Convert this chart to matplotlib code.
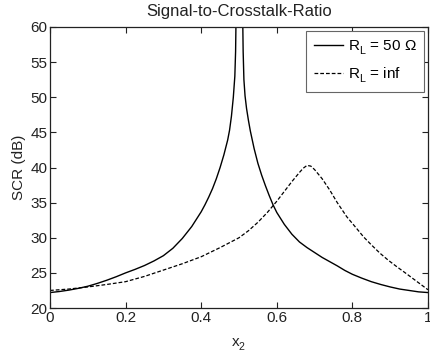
import numpy as np
import matplotlib
matplotlib.use("Agg")
import matplotlib.pyplot as plt

plt.rcParams['font.family'] = ['Liberation Sans', 'DejaVu Sans']
plt.rcParams['mathtext.fontset'] = 'custom'
plt.rcParams['mathtext.rm'] = 'Liberation Sans'
plt.rcParams['mathtext.it'] = 'Liberation Sans:italic'

# push subscripts a bit lower, matlab style
try:
    import matplotlib._mathtext as mt
    mt.FontConstantsBase.sub1 = 0.5
    mt.FontConstantsBase.sub2 = 0.6
except Exception:
    pass

# R_L = 50 ohm (solid), NaN breaks the curve at the pole near x2 = 0.5
x_50 = [0.0, 0.025, 0.05, 0.075, 0.1, 0.125, 0.15, 0.175, 0.2, 0.225, 0.25,
        0.275, 0.3, 0.325, 0.35, 0.375, 0.4, 0.41, 0.42, 0.43, 0.44, 0.45,
        0.46, 0.47, 0.475, 0.48, 0.485, 0.489, 0.491, 0.492, 0.4925, 0.5,
        0.5095, 0.51, 0.511, 0.513, 0.516, 0.52, 0.525, 0.53, 0.54, 0.55,
        0.56, 0.57, 0.58, 0.59, 0.6, 0.62, 0.64, 0.66, 0.68, 0.7, 0.72,
        0.74, 0.76, 0.78, 0.8, 0.825, 0.85, 0.875, 0.9, 0.925, 0.95, 0.975, 1.0]
scr_50 = [22.2, 22.35, 22.55, 22.8, 23.1, 23.5, 23.95, 24.45, 25.0, 25.5, 26.05,
          26.7, 27.45, 28.5, 29.9, 31.6, 33.7, 34.7, 35.8, 37.0, 38.4, 40.0,
          41.8, 43.9, 45.3, 47.3, 50.0, 53.0, 56.5, 60.5, 90.0, np.nan,
          90.0, 60.5, 56.5, 52.5, 50.2, 48.4, 46.7, 45.2, 42.7, 40.6,
          38.9, 37.4, 36.0, 34.7, 33.6, 31.9, 30.5, 29.4, 28.6, 27.9, 27.2,
          26.6, 26.0, 25.35, 24.8, 24.25, 23.75, 23.35, 23.0, 22.7, 22.5, 22.3, 22.2]

# R_L = inf (dashed)
x_inf = [0.0, 0.05, 0.1, 0.15, 0.2, 0.25, 0.3, 0.35, 0.4, 0.45, 0.5, 0.525,
         0.55, 0.575, 0.6, 0.62, 0.64, 0.66, 0.67, 0.68, 0.69, 0.7, 0.72,
         0.74, 0.76, 0.785, 0.81, 0.83, 0.85, 0.873, 0.895, 0.917, 0.94,
         0.96, 0.98, 1.0]
scr_inf = [22.5, 22.7, 23.0, 23.35, 23.75, 24.5, 25.4, 26.3, 27.3, 28.6, 30.0, 31.0,
           32.2, 33.6, 35.2, 36.6, 38.0, 39.3, 39.9, 40.3, 40.2, 39.7, 38.4,
           36.8, 35.0, 33.0, 31.4, 30.1, 29.0, 27.8, 26.8, 25.9, 25.0,
           24.2, 23.4, 22.6]

fig = plt.figure(figsize=(4.3, 3.6), dpi=100)
ax = fig.add_axes([0.1163, 0.1444, 0.879, 0.7806])

ax.plot(x_50, scr_50, color='black', linewidth=1.0, label=r'R$_\mathrm{L}$ = 50 $\Omega$')
ax.plot(x_inf, scr_inf, color='black', linewidth=0.9, linestyle=(0, (3, 1.6)),
        label=r'R$_\mathrm{L}$ = inf')

fs = 11
ax.set_xlim(0, 1)
ax.set_ylim(20, 60)
ax.set_xticks([0, 0.2, 0.4, 0.6, 0.8, 1])
ax.set_xticklabels(['0', '0.2', '0.4', '0.6', '0.8', '1'])
ax.set_yticks(range(20, 61, 5))
ax.tick_params(direction='in', top=True, right=True, length=4, width=0.8,
               labelsize=fs, colors='#222222', pad=2)
for s in ax.spines.values():
    s.set_color('#222222')
    s.set_linewidth(0.9)

ax.set_title('Signal-to-Crosstalk-Ratio', fontsize=12, color='#222222', pad=8)
ax.set_xlabel(r'x$_2$', fontsize=fs, color='#222222', labelpad=8)
ax.set_ylabel('SCR (dB)', fontsize=fs, color='#222222', labelpad=3)

leg = ax.legend(loc='upper right', fontsize=fs, fancybox=False, framealpha=1,
                edgecolor='#666666', handlelength=1.9, handletextpad=0.3,
                borderpad=0.5, labelspacing=0.55, borderaxespad=0.25)
leg.get_frame().set_linewidth(0.8)

fig.savefig('out.png', dpi=100)
